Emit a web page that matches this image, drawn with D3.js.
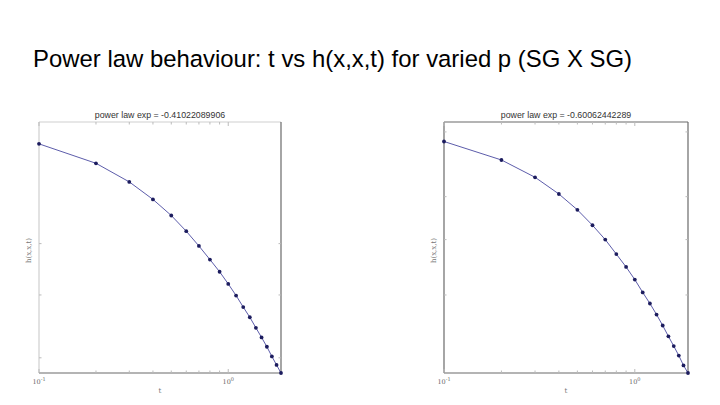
<!DOCTYPE html>
<html><head><meta charset="utf-8">
<script src="https://cdn.jsdelivr.net/npm/d3@7"></script>
<style>body{margin:0;background:#fff}svg{display:block}</style>
</head><body>
<svg id="c" width="720" height="405"></svg>
<script>
const mainTitle = "Power law behaviour: t vs h(x,x,t) for varied p (SG X SG)";
const tValues = [0.1,0.2,0.3,0.4,0.5,0.6,0.7,0.8,0.9,1.0,1.1,1.2,1.3,1.4,1.5,1.6,1.7,1.8,1.9];
const hLeft = [0.0855,0.0798,0.0747,0.0702,0.0663,0.0627,0.0595,0.0567,0.0543,0.0520,0.0499,0.0479,0.0462,0.0445,0.0430,0.0416,0.0402,0.0390,0.0379];
const hRight = [0.0666,0.0605,0.0553,0.0507,0.0467,0.0431,0.0400,0.0371,0.0347,0.0325,0.0304,0.0287,0.0271,0.0256,0.0242,0.0230,0.0219,0.0208,0.0200];
const titles = ["power law exp = -0.41022089906","power law exp = -0.60062442289"];
const yDomains = [[0.0379,0.0924],[0.0200,0.0737]];
const yTicksLeft = [0.04,0.05,0.06];
const yTicksRight = [0.03,0.04,0.05,0.07];
const xMajorTicks = [0.1,1];
const xMinorTicks = [0.2,0.3,0.4,0.5,0.6,0.7,0.8,0.9];
const xTickLabels = [["10","-1"],["10","0"]];
const xLabel = "t", yLabels = ["h(x,x,t)","h(x,x,t)"];

const svg = d3.select("#c");
svg.append("text").attr("x",33).attr("y",67).attr("font-family","Liberation Sans, Arial, sans-serif")
  .attr("font-size",24.5).attr("textLength",599).attr("lengthAdjust","spacingAndGlyphs")
  .attr("fill","#000").text(mainTitle);

const panels = [
  {x0:39, x1:281, y0:122, y1:373, h:hLeft, yt:yTicksLeft, title:titles[0], ylab:yLabels[0], light:true},
  {x0:444, x1:688, y0:122, y1:373, h:hRight, yt:yTicksRight, title:titles[1], ylab:yLabels[1], light:false}
];
panels.forEach((p,i)=>{
  const x = d3.scaleLog().domain([tValues[0], tValues[tValues.length-1]]).range([p.x0,p.x1]);
  const y = d3.scaleLog().domain(yDomains[i]).range([p.y1,p.y0]);
  const g = svg.append("g");
  const dark = "#6a6a6a", lite = p.light ? "#cfcfcf" : "#6a6a6a";
  g.append("line").attr("x1",p.x0).attr("x2",p.x1).attr("y1",p.y0).attr("y2",p.y0).attr("stroke",lite).attr("stroke-width",1.2);
  g.append("line").attr("x1",p.x0).attr("x2",p.x0).attr("y1",p.y0).attr("y2",p.y1).attr("stroke",lite).attr("stroke-width",1.2);
  g.append("line").attr("x1",p.x1).attr("x2",p.x1).attr("y1",p.y0).attr("y2",p.y1).attr("stroke",dark).attr("stroke-width",1.2);
  g.append("line").attr("x1",p.x0).attr("x2",p.x1).attr("y1",p.y1).attr("y2",p.y1).attr("stroke",dark).attr("stroke-width",1.2);
  const tickCol = "#bbb";
  xMinorTicks.concat(xMajorTicks).forEach(t=>{
    const len = xMajorTicks.includes(t) ? 4 : 2.5;
    g.append("line").attr("x1",x(t)).attr("x2",x(t)).attr("y1",p.y1).attr("y2",p.y1-len).attr("stroke",tickCol);
    g.append("line").attr("x1",x(t)).attr("x2",x(t)).attr("y1",p.y0).attr("y2",p.y0+len).attr("stroke",tickCol);
  });
  p.yt.forEach(v=>{
    g.append("line").attr("x1",p.x0).attr("x2",p.x0+2.5).attr("y1",y(v)).attr("y2",y(v)).attr("stroke",tickCol);
    g.append("line").attr("x1",p.x1).attr("x2",p.x1-2.5).attr("y1",y(v)).attr("y2",y(v)).attr("stroke",tickCol);
  });
  xMajorTicks.forEach((t,k)=>{
    const tx = g.append("text").attr("x",x(t)).attr("y",p.y1+11).attr("text-anchor","middle")
      .attr("font-family","DejaVu Serif, serif").attr("font-size",6.5).attr("fill","#666");
    tx.append("tspan").text(xTickLabels[k][0]);
    tx.append("tspan").attr("dy",-3).attr("font-size",5).text(xTickLabels[k][1]);
  });
  g.append("text").attr("x",(p.x0+p.x1)/2).attr("y",p.y0-4).attr("text-anchor","middle")
    .attr("font-family","Liberation Sans, Arial, sans-serif").attr("font-size",8.8).attr("fill","#333").text(p.title);
  g.append("text").attr("x",(p.x0+p.x1)/2).attr("y",p.y1+20).attr("text-anchor","middle")
    .attr("font-family","DejaVu Serif, serif").attr("font-size",7).attr("fill","#777").text(xLabel);
  g.append("text").attr("transform",`translate(${p.x0-8.5},${(p.y0+p.y1)/2+3}) rotate(-90)`).attr("text-anchor","middle")
    .attr("font-family","DejaVu Serif, serif").attr("font-size",7).attr("fill","#777").text(p.ylab);
  const data = tValues.map((t,k)=>({t, h:p.h[k]}));
  g.append("path").datum(data).attr("fill","none").attr("stroke","#4a4aa0").attr("stroke-width",0.9)
    .attr("d", d3.line().x(d=>x(d.t)).y(d=>y(d.h)));
  g.selectAll("circle").data(data).join("circle").attr("cx",d=>x(d.t)).attr("cy",d=>y(d.h))
    .attr("r",1.9).attr("fill","#1c1c5e");
});
</script>
</body></html>
